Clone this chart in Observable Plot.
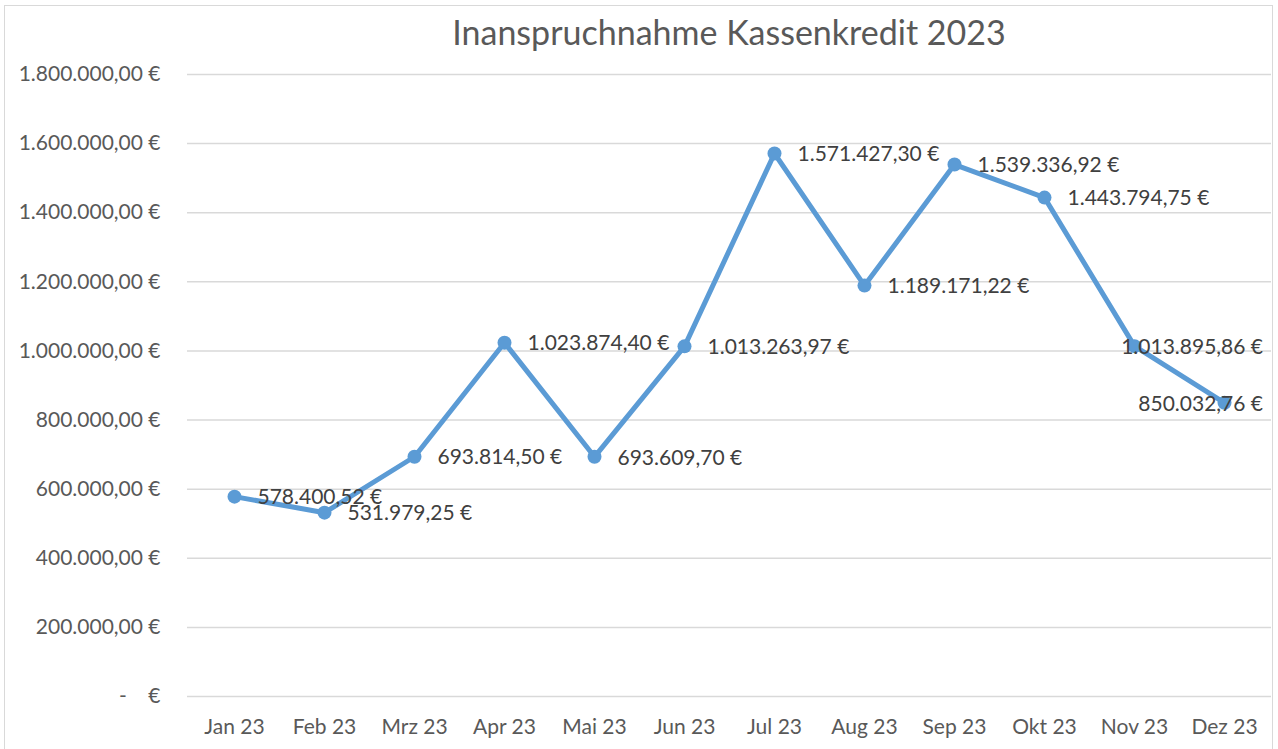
<!DOCTYPE html>
<html>
<head>
<meta charset="utf-8">
<script src="https://cdn.jsdelivr.net/npm/d3@7"></script>
<script src="https://cdn.jsdelivr.net/npm/@observablehq/plot@0.6"></script>
<style>
  html, body { margin: 0; padding: 0; background: #fff; font-family: Lato, sans-serif; overflow: hidden; }
  #title { position: absolute; left: 187px; width: 1084px; top: 15px; height: 40px; line-height: 34px;
           text-align: center; font-size: 34px; color: #595959; white-space: nowrap; }
  #chart { position: absolute; left: 0; top: 60px; }
  #frame { position: absolute; left: 4px; top: 5px; width: 1269px; height: 780px; border: 1px solid #d9d9d9;
           box-sizing: border-box; pointer-events: none; z-index: 2; }
</style>
</head>
<body>
<div id="title">Inanspruchnahme Kassenkredit 2023</div>
<div id="chart"></div>
<div id="frame"></div>
<script>
const months = ["Jan 23", "Feb 23", "Mrz 23", "Apr 23", "Mai 23", "Jun 23", "Jul 23", "Aug 23", "Sep 23", "Okt 23", "Nov 23", "Dez 23"];
const values = [578400.52, 531979.25, 693814.50, 1023874.40, 693609.70, 1013263.97, 1571427.30, 1189171.22, 1539336.92, 1443794.75, 1013895.86, 850032.76];
const yTicks = [0, 200000, 400000, 600000, 800000, 1000000, 1200000, 1400000, 1600000, 1800000];

const data = months.map((m, i) => ({ month: m, value: values[i] }));

const de = d3.formatLocale({ decimal: ",", thousands: ".", grouping: [3], currency: ["", " €"] });
const fmt = de.format(",.2f");
const eur = v => v === 0 ? "-\u00a0\u00a0\u00a0\u00a0€" : fmt(v) + " €";

const chart = Plot.plot({
  width: 1278,
  height: 689,
  marginTop: 14,
  marginBottom: 53,
  marginLeft: 187,
  marginRight: 7,
  style: { fontFamily: "Lato, sans-serif", fontSize: "21px", color: "#595959", background: "transparent" },
  x: { type: "point", domain: months, padding: 0.5, label: null },
  y: { domain: [0, 1800000], label: null },
  marks: [
    Plot.gridY(yTicks, { stroke: "#d9d9d9", strokeOpacity: 1, strokeWidth: 1.5 }),
    Plot.axisY(yTicks, { tickSize: 0, tickPadding: 27, tickFormat: eur, fill: "#595959", fontSize: 21, label: null }),
    Plot.axisX({ tickSize: 0, tickPadding: 23, fill: "#595959", fontSize: 21, label: null }),
    Plot.line(data, { x: "month", y: "value", stroke: "#5b9bd5", strokeWidth: 5, strokeLinejoin: "round" }),
    Plot.dot(data, { x: "month", y: "value", r: 7, fill: "#5b9bd5", stroke: "none" }),
    Plot.text(data, { x: "month", y: "value", text: d => eur(d.value), dx: 23, dy: 1, textAnchor: "start",
                      fill: "#404040", fontSize: 21, className: "dlabel" })
  ]
});
document.getElementById("chart").appendChild(chart);

// Keep data labels inside the chart area (like the spreadsheet does)
const limit = 1263;
chart.querySelectorAll(".dlabel text").forEach(el => {
  const r = el.getBoundingClientRect();
  const over = r.right - limit;
  if (over > 0) {
    el.setAttribute("transform", (el.getAttribute("transform") || "") + ` translate(${-over},0)`);
  }
});
</script>
</body>
</html>
